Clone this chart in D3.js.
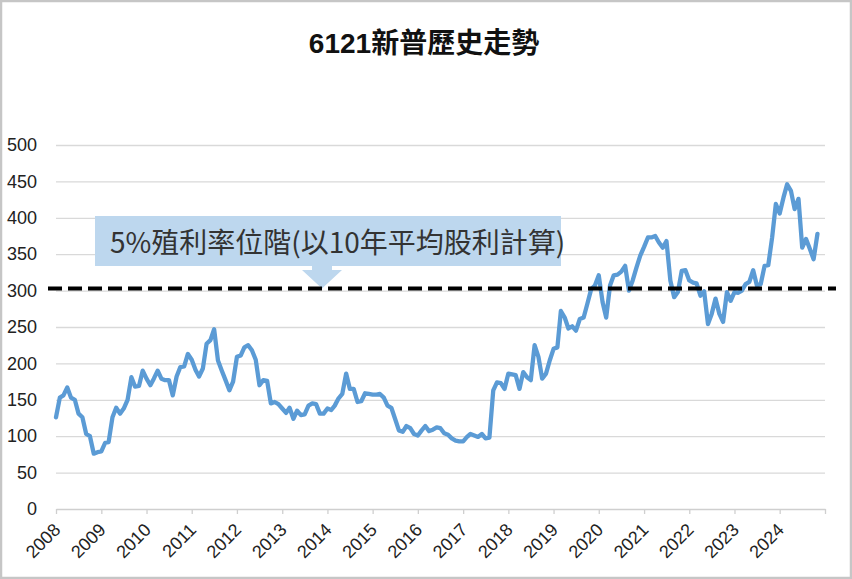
<!DOCTYPE html>
<html>
<head>
<meta charset="utf-8">
<script src="https://cdn.jsdelivr.net/npm/d3@7"></script>
<style>
  body { margin: 0; background: #fff; }
  text { font-family: "Liberation Sans", Arial, "Noto Sans CJK TC", sans-serif; }
</style>
</head>
<body>
<svg id="chart"></svg>
<script>
const title = "6121新普歷史走勢";
const note = "5%殖利率位階(以10年平均股利計算)";
const startMonth = "2008-01";
// monthly closing price, 2008-01 .. 2024-11
const prices = [
  126, 153, 156, 167, 153, 150, 131, 126, 103, 100, 76, 78,
  79, 91, 92, 126, 139, 131, 138, 150, 181, 168, 169, 190,
  179, 170, 179, 190, 179, 177, 177, 156, 182, 195, 196, 213,
  205, 191, 182, 193, 227, 232, 247, 204, 190, 177, 163, 175,
  209, 211, 222, 225, 218, 205, 170, 177, 176, 145, 147, 144,
  138, 132, 139, 124, 135, 129, 130, 142, 145, 144, 131, 131,
  138, 136, 142, 152, 158, 186, 165, 165, 147, 148, 159, 158,
  157, 157, 158, 153, 142, 139, 124, 108, 106, 114, 111, 103,
  101, 108, 114, 107, 109, 112, 111, 104, 102, 97, 94, 93,
  93, 99, 103, 101, 99, 103, 97, 98, 163, 174, 173, 165,
  186, 185, 184, 165, 188, 181, 177, 225, 209, 179, 186, 204,
  220, 222, 272, 263, 248, 251, 245, 261, 263, 282, 302, 307,
  321, 284, 263, 307, 321, 322, 326, 334, 300, 314, 332, 348,
  360, 373, 373, 375, 366, 359, 368, 314, 291, 298, 327, 328,
  314, 311, 310, 293, 299, 254, 268, 289, 268, 257, 298, 286,
  298, 297, 300, 309, 312, 328, 307, 309, 334, 335, 373, 419,
  406, 428, 446, 437, 412, 426, 359, 371, 357, 343, 378
];
const yearLabels = ["2008", "2009", "2010", "2011", "2012", "2013", "2014", "2015", "2016",
  "2017", "2018", "2019", "2020", "2021", "2022", "2023", "2024"];
const yTicks = [0, 50, 100, 150, 200, 250, 300, 350, 400, 450, 500];
const yieldLevel = 303;

const WIDTH = 852, HEIGHT = 579;
const MARGIN = { top: 145, right: 27, bottom: 70, left: 56 };
const INNER_WIDTH = WIDTH - MARGIN.left - MARGIN.right;
const INNER_HEIGHT = HEIGHT - MARGIN.top - MARGIN.bottom;

const parseMonth = d3.timeParse("%Y-%m");
const t0 = parseMonth(startMonth);
const data = prices.map((v, i) => ({ date: d3.timeMonth.offset(t0, i), value: v }));

const svg = d3.select("#chart").attr("width", WIDTH).attr("height", HEIGHT);

// outer frame
svg.append("rect")
  .attr("x", 1).attr("y", 1)
  .attr("width", WIDTH - 2).attr("height", HEIGHT - 2)
  .attr("fill", "#fff")
  .attr("stroke", "#c6c6c6")
  .attr("stroke-width", 2.5);

svg.append("text")
  .attr("x", 424).attr("y", 53)
  .attr("text-anchor", "middle")
  .attr("font-size", "28px")
  .attr("font-weight", "bold")
  .attr("fill", "#111")
  .text(title);

const g = svg.append("g").attr("transform", `translate(${MARGIN.left},${MARGIN.top})`);

const firstYear = +yearLabels[0];
const lastYear = +yearLabels[yearLabels.length - 1] + 1;
const xScale = d3.scaleTime()
  .domain([new Date(firstYear, 0, 1), new Date(lastYear, 0, 1)])
  .range([0, INNER_WIDTH]);
const yScale = d3.scaleLinear().domain([0, 500]).range([INNER_HEIGHT, 0]);

// grid
g.append("g")
  .attr("class", "y axis-grid")
  .call(d3.axisLeft(yScale).tickValues(yTicks.slice(1)).tickSize(-INNER_WIDTH).tickFormat(""))
  .call(s => s.select(".domain").remove())
  .selectAll(".tick line")
  .attr("stroke", "#d9d9d9")
  .attr("stroke-width", 1.3);

// y labels
g.append("g")
  .attr("class", "y axis")
  .call(d3.axisLeft(yScale).tickValues(yTicks).tickSize(0).tickPadding(19))
  .call(s => s.select(".domain").remove())
  .selectAll(".tick text")
  .attr("font-size", "18px")
  .attr("fill", "#222");

// x axis
const yearTicks = d3.range(firstYear, lastYear + 1).map(y => new Date(y, 0, 1));
const xAxis = g.append("g")
  .attr("class", "x axis")
  .attr("transform", `translate(0,${INNER_HEIGHT})`)
  .call(d3.axisBottom(xScale).tickValues(yearTicks).tickSize(5).tickSizeOuter(0)
    .tickFormat(d => yearLabels.includes(String(d.getFullYear())) ? String(d.getFullYear()) : ""));
xAxis.select(".domain").attr("stroke", "#cfcfcf").attr("stroke-width", 1.3);
xAxis.selectAll(".tick line").attr("stroke", "#cfcfcf").attr("stroke-width", 1.3);
xAxis.selectAll(".tick text")
  .attr("font-size", "18px")
  .attr("fill", "#222")
  .attr("text-anchor", "end")
  .attr("dy", 0)
  .attr("y", 0)
  .attr("transform", "translate(5,22) rotate(-45)");

// price line
const line = d3.line()
  .x(d => xScale(d.date))
  .y(d => yScale(d.value));
g.append("path")
  .datum(data)
  .attr("fill", "none")
  .attr("stroke", "#5b9bd5")
  .attr("stroke-width", 4.3)
  .attr("stroke-linejoin", "round")
  .attr("stroke-linecap", "round")
  .attr("d", line);

// annotation callout
const boxX = 95 - MARGIN.left, boxY = 216 - MARGIN.top, boxW = 466, boxH = 50;
const arrowX = 322 - MARGIN.left;
const yLevel = yScale(yieldLevel);
g.append("path")
  .attr("fill", "#bdd7ee")
  .attr("d", [
    `M${boxX},${boxY}`,
    `h${boxW}`, `v${boxH}`,
    `H${arrowX + 10}`, `v4`, `h10`,
    `L${arrowX},${yLevel}`,
    `L${arrowX - 20},${boxY + boxH + 4}`, `h10`, `v-4`,
    `H${boxX}`, "Z"
  ].join(" "));
g.append("text")
  .attr("x", 110 - MARGIN.left)
  .attr("y", 253 - MARGIN.top)
  .attr("font-size", "28px")
  .attr("fill", "#333")
  .style("font-family", "'Noto Sans CJK TC', 'Liberation Sans', sans-serif")
  .text(note);

// 5% yield level
g.append("line")
  .attr("x1", 48 - MARGIN.left)
  .attr("x2", 836 - MARGIN.left)
  .attr("y1", yLevel).attr("y2", yLevel)
  .attr("stroke", "#000")
  .attr("stroke-width", 4)
  .attr("stroke-dasharray", "14,6");
</script>
</body>
</html>
